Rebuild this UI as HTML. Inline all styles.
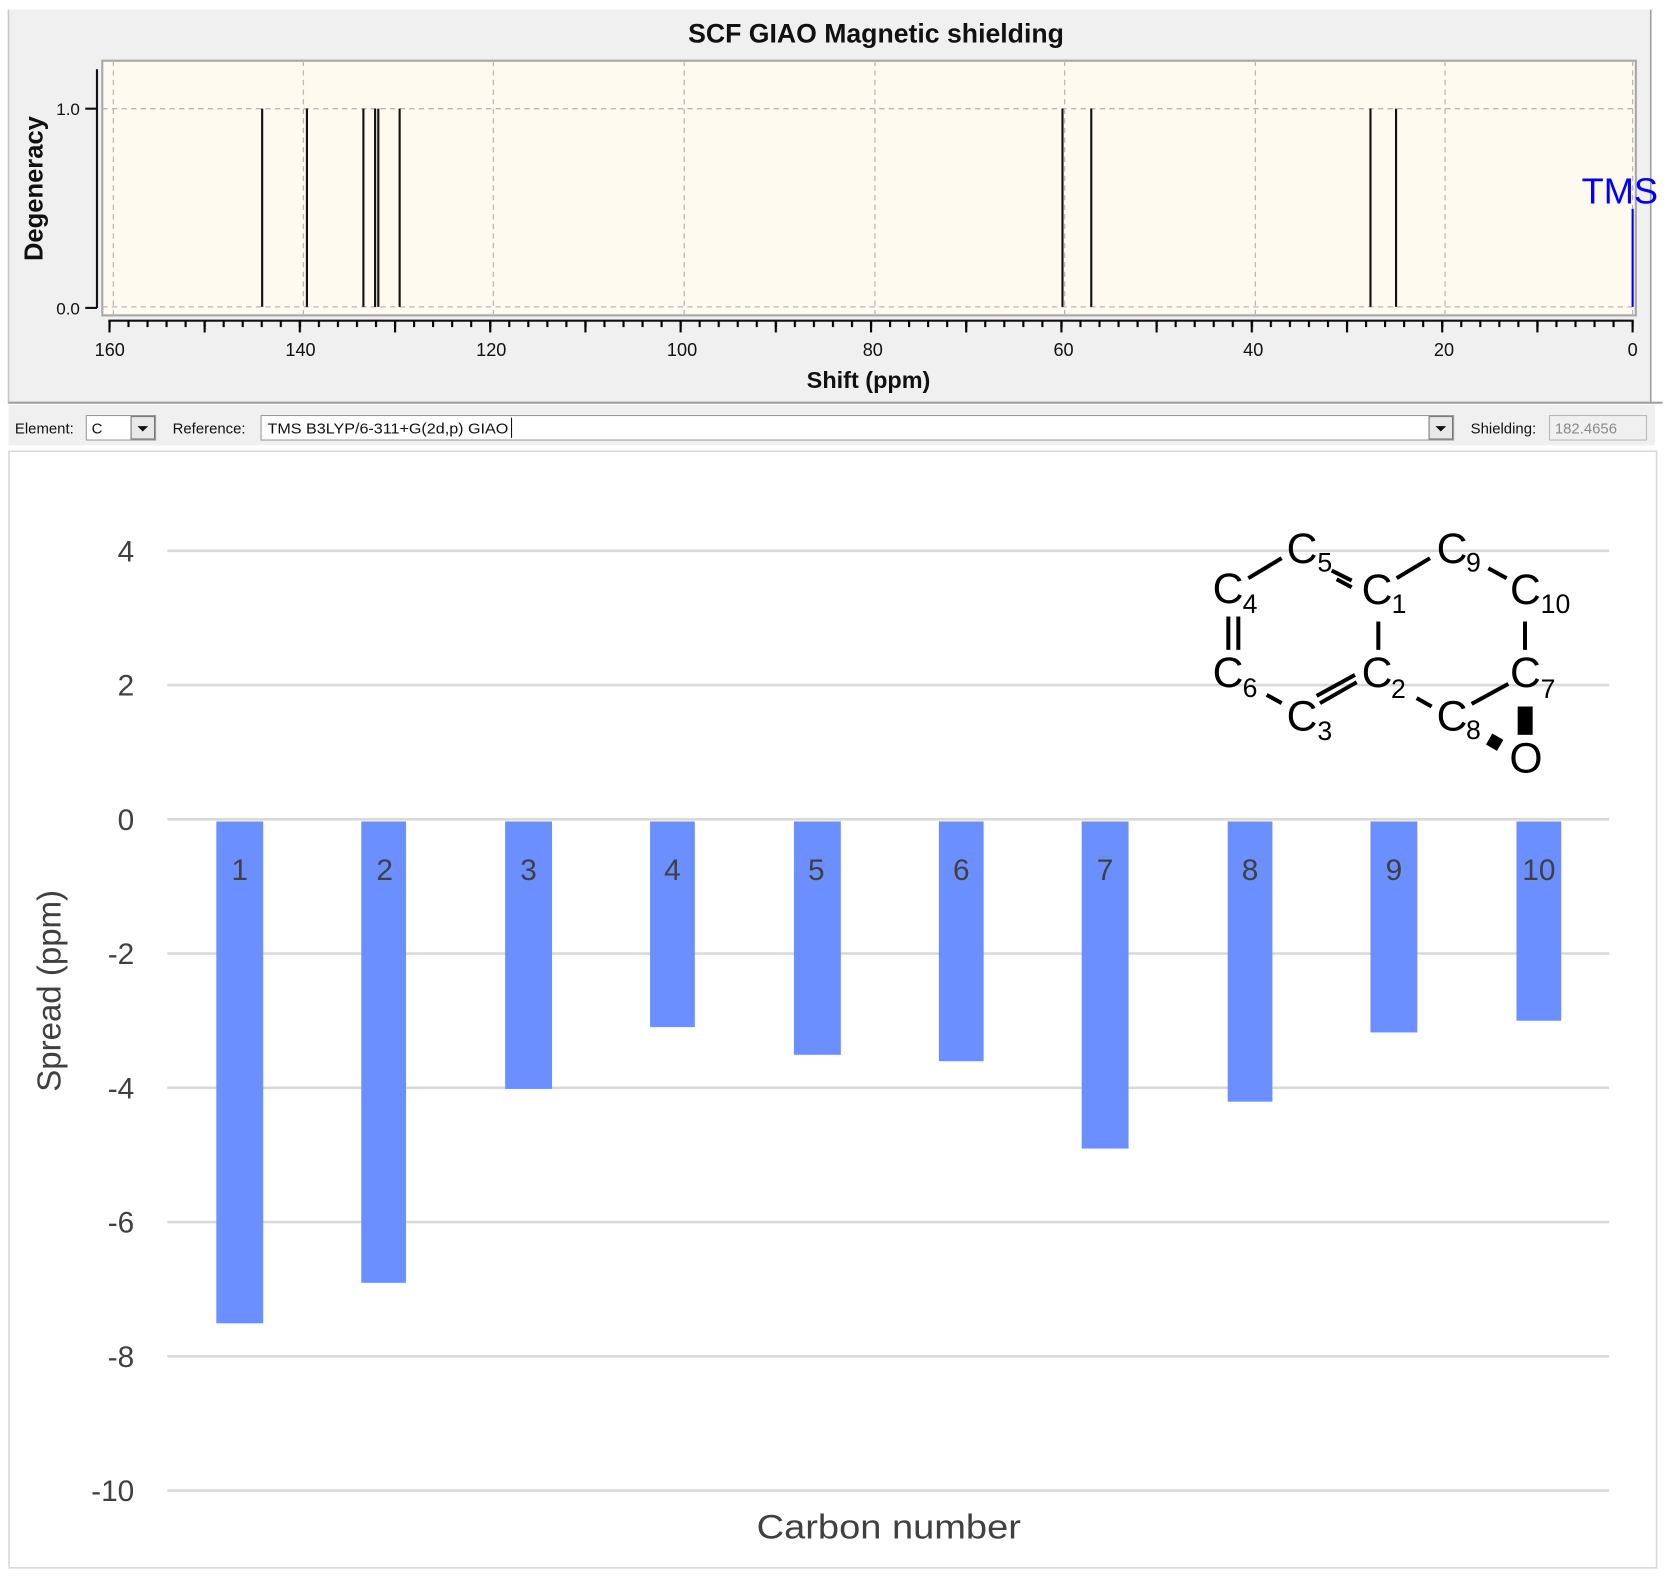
<!DOCTYPE html>
<html><head><meta charset="utf-8"><style>
html,body{margin:0;padding:0;background:#fff;}
svg{display:block;}
text{font-family:"Liberation Sans",sans-serif;}
</style></head><body>
<svg width="1671" height="1579" viewBox="0 0 1568 1482" preserveAspectRatio="none" xmlns="http://www.w3.org/2000/svg">
<defs>
<pattern id="minor" patternUnits="userSpaceOnUse" x="101.7" y="0" width="17.866" height="20"><rect x="0" y="0" width="2" height="20" fill="#000"/></pattern>
<pattern id="major" patternUnits="userSpaceOnUse" x="101.7" y="0" width="89.33" height="20"><rect x="0" y="0" width="2" height="20" fill="#000"/></pattern>
</defs>
<rect width="1568" height="1482" fill="#fff"/>
<!-- top panel -->
<rect x="8" y="9" width="1541" height="370" fill="#f0f0f0"/>
<line x1="8" y1="9" x2="8" y2="379" stroke="#c8c8c8" stroke-width="1.5"/>
<line x1="1549" y1="9" x2="1549" y2="379" stroke="#a0a0a0" stroke-width="1.5"/>
<line x1="8" y1="378" x2="1560" y2="378" stroke="#a0a0a0" stroke-width="2"/>
<text x="822" y="40" font-size="25" font-weight="bold" text-anchor="middle" fill="#111">SCF GIAO Magnetic shielding</text>
<rect x="96" y="57" width="1439" height="239" fill="#fffaf0" stroke="#a8a8a8" stroke-width="2"/>
<g stroke="#b8b8b8" stroke-width="1.2" stroke-dasharray="5,4">
<line x1="96" y1="102" x2="1535" y2="102"/><line x1="96" y1="288" x2="1535" y2="288"/>
<line x1="106.4" y1="57" x2="106.4" y2="296"/><line x1="284.7" y1="57" x2="284.7" y2="296"/>
<line x1="463" y1="57" x2="463" y2="296"/><line x1="642" y1="57" x2="642" y2="296"/>
<line x1="821" y1="57" x2="821" y2="296"/><line x1="999" y1="57" x2="999" y2="296"/>
<line x1="1178" y1="57" x2="1178" y2="296"/><line x1="1356" y1="57" x2="1356" y2="296"/>
<line x1="1532" y1="57" x2="1532" y2="296"/>
</g>
<g stroke="#111" stroke-width="2">
<line x1="246" y1="102" x2="246" y2="288"/><line x1="288" y1="102" x2="288" y2="288"/>
<line x1="341" y1="102" x2="341" y2="288"/><line x1="352" y1="102" x2="352" y2="288"/>
<line x1="355" y1="102" x2="355" y2="288"/><line x1="375" y1="102" x2="375" y2="288"/>
<line x1="997" y1="102" x2="997" y2="288"/><line x1="1024" y1="102" x2="1024" y2="288"/>
<line x1="1286" y1="102" x2="1286" y2="288"/><line x1="1310" y1="102" x2="1310" y2="288"/>
</g>
<line x1="1532" y1="196" x2="1532" y2="288" stroke="#0000ff" stroke-width="2"/>
<text x="1520" y="191" font-size="34" fill="#0000ff" text-anchor="middle">TMS</text>
<!-- y axis -->
<g stroke="#111" stroke-width="2"><line x1="91" y1="65" x2="91" y2="289"/><line x1="80" y1="102" x2="91" y2="102"/><line x1="80" y1="289" x2="91" y2="289"/></g>
<text x="75" y="108" font-size="16" text-anchor="end" fill="#111">1.0</text>
<text x="75" y="295" font-size="16" text-anchor="end" fill="#111">0.0</text>
<text transform="translate(40,177) rotate(-90)" font-size="24" font-weight="bold" text-anchor="middle" fill="#111">Degeneracy</text>
<!-- x axis -->
<line x1="101.7" y1="301" x2="1533" y2="301" stroke="#111" stroke-width="2"/>
<rect x="101.7" y="301" width="1431.5" height="6" fill="url(#minor)"/>
<rect x="101.7" y="301" width="1431.5" height="11" fill="url(#major)"/>
<g font-size="17" text-anchor="middle" fill="#111">
<text x="103" y="334">160</text><text x="282" y="334">140</text><text x="461" y="334">120</text><text x="640" y="334">100</text>
<text x="819" y="334">80</text><text x="998" y="334">60</text><text x="1176" y="334">40</text><text x="1355" y="334">20</text><text x="1532" y="334">0</text>
</g>
<text x="815" y="364" font-size="22" font-weight="bold" text-anchor="middle" fill="#111">Shift (ppm)</text>
<!-- toolbar -->
<rect x="8" y="380" width="1545" height="38" fill="#f0f0f0"/>
<g font-size="14" fill="#111">
<text x="14" y="407">Element:</text>
<text x="162" y="407">Reference:</text>
<text x="1380" y="407">Shielding:</text>
</g>
<rect x="81" y="390" width="65" height="23" fill="#fff" stroke="#9a9a9a"/>
<text x="86" y="407" font-size="14" fill="#111">C</text>
<rect x="123" y="391" width="22" height="21" fill="#e8e8e8" stroke="#777"/>
<path d="M129 400 L139 400 L134 405 Z" fill="#111"/>
<rect x="245" y="390" width="1119" height="23" fill="#fff" stroke="#9a9a9a"/>
<text x="251" y="407" font-size="14" fill="#111" textLength="226" lengthAdjust="spacingAndGlyphs">TMS B3LYP/6-311+G(2d,p) GIAO</text>
<line x1="480" y1="392" x2="480" y2="411" stroke="#111"/>
<rect x="1341" y="391" width="22" height="21" fill="#e8e8e8" stroke="#777"/>
<path d="M1347 400 L1357 400 L1352 405 Z" fill="#111"/>
<rect x="1454" y="390" width="91" height="23" fill="#f0f0f0" stroke="#b8b8b8"/>
<text x="1459" y="407" font-size="14" fill="#8a8a8a">182.4656</text>
<!-- bottom chart -->
<rect x="8.5" y="423.5" width="1546" height="1048" fill="#fff" stroke="#d9d9d9" stroke-width="1.5"/>
<g stroke="#d9d9d9" stroke-width="2.5">
<line x1="157" y1="517" x2="1510" y2="517"/><line x1="157" y1="643" x2="1510" y2="643"/>
<line x1="157" y1="769" x2="1510" y2="769"/><line x1="157" y1="895" x2="1510" y2="895"/>
<line x1="157" y1="1021" x2="1510" y2="1021"/><line x1="157" y1="1147" x2="1510" y2="1147"/>
<line x1="157" y1="1273" x2="1510" y2="1273"/><line x1="157" y1="1399" x2="1510" y2="1399"/>
</g>
<g font-size="28" text-anchor="end" fill="#404040">
<text x="126" y="527">4</text><text x="126" y="653">2</text><text x="126" y="779">0</text>
<text x="126" y="905">-2</text><text x="126" y="1031">-4</text><text x="126" y="1157">-6</text>
<text x="126" y="1283">-8</text><text x="126" y="1409">-10</text>
</g>
<g fill="#6b8fff">
<rect x="203" y="771" width="44" height="471"/><rect x="339" y="771" width="42" height="433"/>
<rect x="474" y="771" width="44" height="251"/><rect x="610" y="771" width="42" height="193"/>
<rect x="745" y="771" width="44" height="219"/><rect x="881" y="771" width="42" height="225"/>
<rect x="1015" y="771" width="44" height="307"/><rect x="1152" y="771" width="42" height="263"/>
<rect x="1286" y="771" width="44" height="198"/><rect x="1423" y="771" width="42" height="187"/>
</g>
<g font-size="28" text-anchor="middle" fill="#404040">
<text x="225" y="826">1</text><text x="361" y="826">2</text><text x="496" y="826">3</text><text x="631" y="826">4</text>
<text x="766" y="826">5</text><text x="902" y="826">6</text><text x="1037" y="826">7</text><text x="1173" y="826">8</text>
<text x="1308" y="826">9</text><text x="1444" y="826">10</text>
</g>
<text transform="translate(57,930) rotate(-90)" font-size="31" text-anchor="middle" fill="#404040">Spread (ppm)</text>
<text x="834" y="1444" font-size="32" text-anchor="middle" fill="#404040" textLength="248" lengthAdjust="spacingAndGlyphs">Carbon number</text>
<!-- molecule -->
<g transform="scale(0.93836) translate(1180,500) scale(0.33333)">
<g font-size="128" fill="#000">
<text x="320" y="190">C</text><text x="412" y="215" font-size="80">5</text>
<text x="770" y="190">C</text><text x="858" y="215" font-size="80">9</text>
<text x="98" y="310">C</text><text x="188" y="340" font-size="80">4</text>
<text x="545" y="312">C</text><text x="635" y="340" font-size="80">1</text>
<text x="990" y="312">C</text><text x="1082" y="340" font-size="80">10</text>
<text x="98" y="562">C</text><text x="188" y="592" font-size="80">6</text>
<text x="545" y="562">C</text><text x="633" y="595" font-size="80">2</text>
<text x="990" y="562">C</text><text x="1082" y="595" font-size="80">7</text>
<text x="320" y="692">C</text><text x="412" y="720" font-size="80">3</text>
<text x="770" y="692">C</text><text x="858" y="718" font-size="80">8</text>
<text x="988" y="818">O</text>
</g>
<g stroke="#000" stroke-width="12" fill="none">
<line x1="205" y1="235" x2="305" y2="175"/>
<line x1="455" y1="212" x2="515" y2="242"/><line x1="470" y1="238" x2="515" y2="262"/>
<line x1="650" y1="235" x2="750" y2="175"/>
<line x1="925" y1="205" x2="980" y2="235"/>
<line x1="145" y1="350" x2="145" y2="450"/><line x1="175" y1="350" x2="175" y2="450"/>
<line x1="595" y1="365" x2="595" y2="450"/>
<line x1="1035" y1="365" x2="1035" y2="450"/>
<line x1="260" y1="585" x2="305" y2="610"/>
<line x1="410" y1="588" x2="525" y2="525"/><line x1="420" y1="610" x2="530" y2="547"/>
<line x1="710" y1="595" x2="755" y2="620"/>
<line x1="875" y1="612" x2="985" y2="552"/>
</g>
<rect x="1013" y="620" width="45" height="85" fill="#000"/>
<rect x="925" y="708" width="38" height="38" fill="#000" transform="rotate(30 944 727)"/>
</g>
</svg>
</body></html>
